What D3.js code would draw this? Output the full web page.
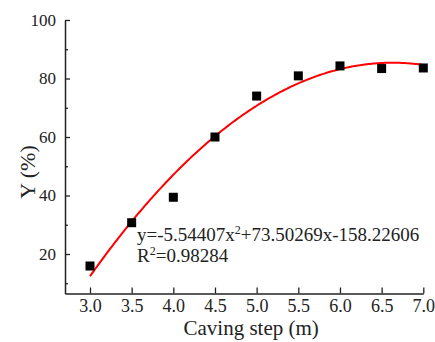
<!DOCTYPE html>
<html><head><meta charset="utf-8">
<script src="https://cdn.jsdelivr.net/npm/d3@7"></script>
<style>body{margin:0;background:#fff}svg{display:block}text{font-family:"Liberation Serif","Times New Roman",serif;fill:#222}</style>
</head><body>
<script>
const steps = [3.0, 3.5, 4.0, 4.5, 5.0, 5.5, 6.0, 6.5, 7.0];
const yValues = [15.9, 30.7, 39.4, 60.0, 74.0, 80.9, 84.3, 83.4, 83.6];
const fitCoef = [-5.54407, 73.50269, -158.22606];
const xTicks = [3.0, 3.5, 4.0, 4.5, 5.0, 5.5, 6.0, 6.5, 7.0];
const yTicks = [20, 40, 60, 80, 100];
const yMinorTicks = [10, 30, 50, 70, 90];
const eqLabel = ["y=-5.54407x", "2", "+73.50269x-158.22606"];
const r2Label = ["R", "2", "=0.98284"];

const W = 435, H = 342;
const svg = d3.select("body").append("svg").attr("width", W).attr("height", H);
const x = d3.scaleLinear().domain([2.7, 7.0]).range([65, 423.3]);
const y = d3.scaleLinear().domain([6.5, 100]).range([293.5, 20]);

// axes
const xAxis = d3.axisBottom(x).tickValues(xTicks).tickFormat(d3.format(".1f")).tickSizeInner(-6).tickSizeOuter(0).tickPadding(6);
const gx = svg.append("g").attr("transform", `translate(0,${y.range()[0]})`).call(xAxis);
const yAxis = d3.axisLeft(y).tickValues(yTicks).tickFormat(d3.format("d")).tickSizeInner(-5).tickSizeOuter(0).tickPadding(9);
const gy = svg.append("g").attr("transform", `translate(${x.range()[0]},0)`).call(yAxis);
const yMinor = d3.axisLeft(y).tickValues(yMinorTicks).tickFormat("").tickSizeInner(-3).tickSizeOuter(0);
svg.append("g").attr("transform", `translate(${x.range()[0]},0)`).call(yMinor).select(".domain").remove();
[gx, gy].forEach(g => {
  g.select(".domain").attr("stroke", "#222").attr("stroke-width", 1.5);
  g.selectAll(".tick text").attr("fill", "#333").attr("font-family", '"Liberation Serif",serif');
});
gx.selectAll(".tick text").attr("font-size", 18);
gy.selectAll(".tick text").attr("font-size", 17);
svg.selectAll(".tick line").attr("stroke", "#222").attr("stroke-width", 1.3);

// axis titles
svg.append("text").attr("x", (x(2.7) + x(7.0)) / 2 + 7).attr("y", 335)
  .attr("text-anchor", "middle").attr("font-size", 21).text("Caving step (m)");
svg.append("text").attr("transform", `translate(35,172) rotate(-90)`)
  .attr("text-anchor", "middle").attr("font-size", 22).text("Y (%)");

// fit curve
const fx = d3.range(3.0, 7.0001, 0.02);
const line = d3.line().x(d => x(d)).y(d => y(fitCoef[0]*d*d + fitCoef[1]*d + fitCoef[2]));
svg.append("path").datum(fx).attr("d", line).attr("fill", "none").attr("stroke", "#ff0000").attr("stroke-width", 2);

// points
const s = 9;
svg.selectAll("rect.pt").data(steps).enter().append("rect").attr("class", "pt")
  .attr("x", (d) => x(d) - s/2).attr("y", (d, i) => y(yValues[i]) - s/2)
  .attr("width", s).attr("height", s).attr("fill", "#000");

// equation
function supText(lbl, tx, ty) {
  const t = svg.append("text").attr("x", tx).attr("y", ty).attr("font-size", 19);
  t.append("tspan").text(lbl[0]);
  t.append("tspan").attr("font-size", 12).attr("dy", -7).text(lbl[1]);
  t.append("tspan").attr("dy", 7).text(lbl[2]);
}
supText(eqLabel, 137, 241);
supText(r2Label, 137, 262);
</script>
</body></html>
